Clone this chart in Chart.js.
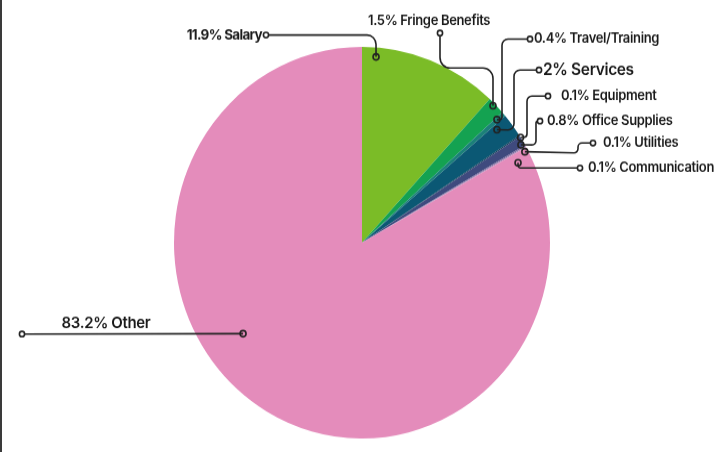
<!DOCTYPE html>
<html>
<head>
<meta charset="utf-8">
<script src="https://cdn.jsdelivr.net/npm/chart.js@4.4.1/dist/chart.umd.min.js"></script>
<style>
  html, body { margin: 0; padding: 0; background: #fff; overflow: hidden; }
  #edge { position: absolute; left: 0; top: 0; width: 2px; height: 452px; background: #3a3a3a; }
  #wrap { position: absolute; left: 0; top: 0; width: 723px; height: 434px; transform: scaleY(1.0415); transform-origin: 0 0; }
</style>
</head>
<body>
<div id="edge"></div>
<div id="wrap"><canvas id="chart" width="723" height="434"></canvas></div>
<script>
// Budget shares (percent), clockwise from 12 o'clock
const categories = ['Salary', 'Fringe Benefits', 'Travel/Training', 'Services', 'Equipment',
  'Office Supplies', 'Utilities', 'Communication', 'Other'];
const shares = [11.9, 1.5, 0.4, 2, 0.1, 0.8, 0.1, 0.1, 83.2];
const sliceColors = ['#7bbc27', '#14a251', '#1b8079', '#0b5874', '#0a3653',
  '#3f4a7e', '#6a5f93', '#a585b6', '#e48cbb'];

// the picture is stretched a little vertically; callout positions are in page pixels
const SY = 452 / 434;

// leader lines: anchor as [angle deg clockwise from top, radius fraction], then corners and end (page px)
const callouts = [
  { anchor: [4.5, 0.952], path: [[376, 35], [266, 35]], r: 9, label: [262, 35], align: 'right', font: '700 13.5px Inter', spacing: '-0.7px' },
  { anchor: [44.9, 0.987], path: [[493, 68], [440, 68], [440, 33]], r: 10, label: [368, 21], align: 'left', font: '600 13px Inter' },
  { anchor: [48.8, 0.954], path: [[502, 120], [502, 39], [530, 39]], r: 6, label: [534, 39], align: 'left', font: '600 13px Inter' },
  { anchor: [51.2, 0.921], path: [[514, 130], [514, 70], [539, 70]], r: 6, label: [543, 70], align: 'left', font: '600 15.5px Inter' },
  { anchor: [57.5, 1.0], path: [[527, 137], [527, 96], [548, 96]], r: 5, label: [561, 96], align: 'left', font: '600 13px Inter' },
  { anchor: [59.4, 0.982], path: [[536, 145], [536, 121], [540, 121]], r: 4, label: [547, 121], align: 'left', font: '600 13px Inter' },
  { anchor: [61.8, 0.983], path: [[578, 153], [578, 143], [593, 143]], r: 4, label: [603, 143], align: 'left', font: '600 13px Inter' },
  { anchor: [63.8, 0.925], path: [[518, 168], [580, 168]], r: 4, label: [588, 168], align: 'left', font: '600 13px Inter' },
  { anchor: [233.7, 0.785], path: [[22, 334]], r: 0, label: [106, 323], align: 'center', font: '600 15px Inter' },
];

const calloutPlugin = {
  id: 'callouts',
  afterDraw(chart) {
    const ctx = chart.ctx;
    const arc = chart.getDatasetMeta(0).data[0];
    const cx = arc.x, cy = arc.y, R = arc.outerRadius;
    ctx.save();
    callouts.forEach((c, i) => {
      const a = c.anchor[0] * Math.PI / 180;
      const dot = [cx + Math.sin(a) * R * c.anchor[1], cy - Math.cos(a) * R * c.anchor[1]];
      const pts = [dot].concat(c.path.map(p => [p[0], p[1] / SY]));
      ctx.strokeStyle = '#222';
      ctx.lineWidth = 1.6;
      ctx.beginPath();
      ctx.moveTo(pts[0][0], pts[0][1]);
      for (let k = 1; k < pts.length - 1; k++) {
        const l1 = Math.hypot(pts[k][0] - pts[k - 1][0], pts[k][1] - pts[k - 1][1]);
        const l2 = Math.hypot(pts[k + 1][0] - pts[k][0], pts[k + 1][1] - pts[k][1]);
        const rr = Math.min(c.r, l1 / 2, l2 / 2);
        ctx.arcTo(pts[k][0], pts[k][1], pts[k + 1][0], pts[k + 1][1], rr);
      }
      const end = pts[pts.length - 1];
      ctx.lineTo(end[0], end[1]);
      ctx.stroke();

      // ring on the slice, ring at the label end
      ctx.beginPath();
      ctx.arc(dot[0], dot[1], 3, 0, Math.PI * 2);
      ctx.stroke();
      ctx.beginPath();
      ctx.arc(end[0], end[1], 2.6, 0, Math.PI * 2);
      ctx.fillStyle = '#fff';
      ctx.fill();
      ctx.stroke();

      ctx.fillStyle = '#1a1a1a';
      ctx.font = c.font;
      ctx.letterSpacing = c.spacing || '-0.35px';
      ctx.textAlign = c.align;
      ctx.textBaseline = 'middle';
      ctx.fillText(`${shares[i]}% ${categories[i]}`, c.label[0], c.label[1] / SY);
    });
    ctx.restore();
  }
};

new Chart(document.getElementById('chart'), {
  type: 'pie',
  data: {
    labels: categories,
    datasets: [{
      data: shares,
      backgroundColor: sliceColors,
      borderWidth: 0,
    }],
  },
  options: {
    responsive: false,
    animation: false,
    layout: { padding: { top: 45, bottom: 13, left: 174, right: 173 } },
    plugins: {
      legend: { display: false },
      tooltip: { enabled: false },
    },
  },
  plugins: [calloutPlugin],
});
</script>
</body>
</html>
